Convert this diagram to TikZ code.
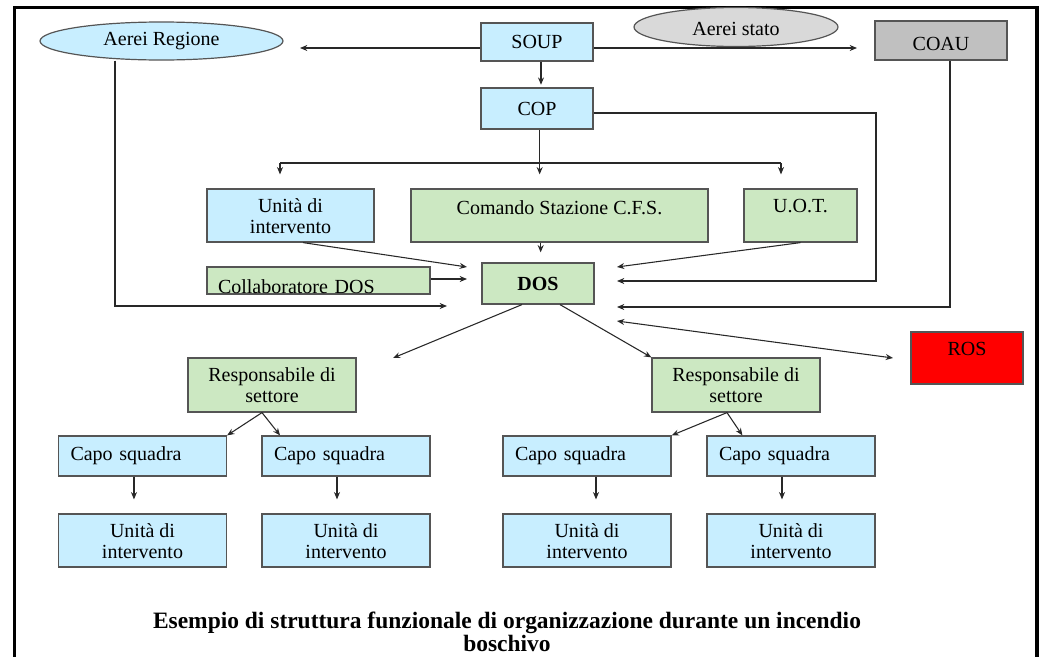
\documentclass[tikz,border=0pt]{standalone}
\usepackage{fontspec}
\setmainfont{Liberation Serif}
\usetikzlibrary{arrows.meta,shapes.geometric}
\newlength\mypx \setlength\mypx{0.75pt}
\newcommand\txtup[2]{\raisebox{#1\mypx}[\height][\depth]{#2}}
\newcommand\twolines[2]{\begin{tabular}{@{}c@{}}#1\\#2\end{tabular}}
\definecolor{boxblue}{RGB}{200,238,255}
\definecolor{boxgreen}{RGB}{204,232,194}
\definecolor{ellgray}{RGB}{217,217,217}
\definecolor{coaugray}{RGB}{192,192,192}
\definecolor{rosred}{RGB}{255,0,0}
\definecolor{edge}{RGB}{85,85,85}
\definecolor{conn}{RGB}{40,40,40}
\tikzset{
  box/.style={draw=edge, line width=0.9pt, inner sep=0pt, align=center},
  bluebox/.style={box, fill=boxblue},
  greenbox/.style={box, fill=boxgreen},
  ell/.style={ellipse, draw=edge, line width=0.9pt, inner sep=0pt},
  arr/.style={draw=conn, line width=0.8pt, -{Stealth[length=5.5pt,width=4.5pt]}},
  darr/.style={draw=conn, line width=0.8pt, {Stealth[length=5.5pt,width=4.5pt]}-{Stealth[length=5.5pt,width=4.5pt]}},
  plain/.style={draw=conn, line width=0.8pt},
  frame/.style={draw=black, line width=2.4pt},
  wideunit/.style={minimum width=126pt, minimum height=39.75pt},
  capobox/.style={bluebox, minimum width=126pt, minimum height=30pt, align=left, text width=108pt, inner xsep=9pt},
  respbox/.style={greenbox, minimum width=126pt, minimum height=40.5pt}
}
\begin{document}
\begin{tikzpicture}[x=0.75pt,y=-0.75pt, font=\fontsize{15}{15.75}\selectfont]
\useasboundingbox (0,0) rectangle (1043,657);
\fill[white] (0,0) rectangle (1043,657);

% frame
\coordinate (fBL) at (14.5,670);
\coordinate (fTL) at (14.5,7.5);
\coordinate (fTR) at (1037,7.5);
\coordinate (fBR) at (1037,670);
\draw[frame] (fBL) -- (fTL) -- (fTR) -- (fBR);

% top row
\node[ell, fill=boxblue, minimum width=182.25pt, minimum height=28.5pt] (aerR) at (161.5,41) {Aerei Regione};
\node[bluebox, minimum width=84pt, minimum height=28.5pt] (soup) at (537,42) {SOUP};
\node[ell, fill=ellgray, minimum width=153pt, minimum height=29.25pt] (aerS) at (736,27) {\txtup{-2}{Aerei stato}};
\node[box, fill=coaugray, minimum width=99pt, minimum height=29.25pt] (coau) at (941,40.5) {\txtup{-3}{COAU}};
\node[bluebox, minimum width=84pt, minimum height=30.75pt] (cop) at (537,108.5) {COP};

% second row
\node[bluebox, minimum width=125.25pt, minimum height=39.75pt] (unit0) at (290.5,215.5) {\txtup{-3}{\twolines{Unità di}{intervento}}};
\node[greenbox, minimum width=222.75pt, minimum height=39.75pt] (cfs) at (559.5,215.5) {\txtup{8}{Comando Stazione C.F.S.}};
\node[greenbox, minimum width=84.75pt, minimum height=39.75pt] (uot) at (800.5,215.5) {\txtup{9}{U.O.T.}};
\node[greenbox, minimum width=167.25pt, minimum height=20.25pt, align=left, text width=150.75pt, inner xsep=8.25pt] (coll) at (318.5,280.5) {\txtup{-6}{Collaboratore DOS}};
\node[greenbox, minimum width=84pt, minimum height=30.75pt, font=\fontsize{15}{15.75}\selectfont\bfseries] (dos) at (538,283.5) {DOS};
\node[box, fill=rosred, minimum width=84pt, minimum height=39pt] (ros) at (967,358) {\txtup{9}{ROS}};

% sector leaders
\node[respbox] (resp1) at (272,385) {\txtup{-3}{\twolines{Responsabile di}{settore}}};
\node[respbox] (resp2) at (736,385) {\txtup{-3}{\twolines{Responsabile di}{settore}}};

% team leaders
\node[capobox] (capo1) at (142.5,456) {Capo squadra};
\node[capobox] (capo2) at (346,456) {Capo squadra};
\node[capobox] (capo3) at (587,456) {Capo squadra};
\node[capobox] (capo4) at (791,456) {Capo squadra};

% intervention units
\node[bluebox, wideunit] (unit1) at (142.5,540.5) {\txtup{-3}{\twolines{Unità di}{intervento}}};
\node[bluebox, wideunit] (unit2) at (346,540.5) {\txtup{-3}{\twolines{Unità di}{intervento}}};
\node[bluebox, wideunit] (unit3) at (587,540.5) {\txtup{-3}{\twolines{Unità di}{intervento}}};
\node[bluebox, wideunit] (unit4) at (791,540.5) {\txtup{-3}{\twolines{Unità di}{intervento}}};

% caption
\node[font=\fontsize{17.6}{16}\selectfont\bfseries, align=center] (cap) at (507,632)
  {Esempio di struttura funzionale di organizzazione durante un incendio\\boschivo};

% free ends
\coordinate (aRend) at (300,48);
\coordinate (coauIn) at (857,48);
\coordinate (brL) at (280,163);
\coordinate (brR) at (781,163);
\coordinate (dosL1) at (467,267);
\coordinate (dosL2) at (467,279);
\coordinate (aRdown) at (115,306);
\coordinate (dosL3) at (447,306);
\coordinate (dosR1) at (617,267);
\coordinate (copR) at (876,113);
\coordinate (dosR2) at (617,281);
\coordinate (coauD) at (950,307);
\coordinate (dosR3) at (617,307);
\coordinate (dosR4) at (617,321);
\coordinate (rosIn) at (893,358);
\coordinate (r1in) at (393,358);

% connectors top
\draw[arr] (soup.west |- aRend) -- (aRend);
\draw[arr] (soup.east |- coauIn) -- (coauIn);
\draw[arr, shorten >=2pt] ([xshift=3pt]soup.south) -- ([xshift=3pt]cop.north);
\draw[plain] ([xshift=2pt]cop.south) -- ([xshift=2pt]cop.south |- brL);
\draw[plain] (brL) -- (brR);
\draw[arr, shorten >=10.5pt] (brL) -- (brL |- unit0.north);
\draw[arr, shorten >=10.5pt] ([xshift=2pt]cop.south |- brL) -- ([xshift=2pt]cop.south |- cfs.north);
\draw[arr, shorten >=10.5pt] (brR) -- (brR |- uot.north);

% into DOS
\draw[arr, shorten >=7.5pt] ([xshift=2pt]cfs.south -| dos.north) -- ([xshift=2pt]dos.north);
\draw[arr] ([xshift=9.4pt]unit0.south) -- (dosL1);
\draw[arr] (coll.east |- dosL2) -- (dosL2);
\draw[draw=conn, line width=1.3pt, -{Stealth[length=5.5pt,width=4.5pt]}] (aRdown |- aerR.south) -- (aRdown) -- (dosL3);
\draw[arr] (uot.south) -- (dosR1);
\draw[arr] (cop.east |- copR) -- (copR) -- (copR |- dosR2) -- (dosR2);
\draw[arr] (coauD |- coau.south) -- (coauD) -- (dosR3);
\draw[darr] (dosR4) -- (rosIn);

% out of DOS
\draw[arr] ([xshift=-12pt]dos.south) -- (r1in);
\draw[arr] ([xshift=16.5pt]dos.south) -- (resp2.north west);

% sector -> team
\draw[arr] ([xshift=-7.5pt]resp1.south) -- (capo1.north east);
\draw[arr] ([xshift=-7.5pt]resp1.south) -- ([xshift=14pt]capo2.north west);
\draw[arr] ([xshift=-6.75pt]resp2.south) -- (capo3.north east);
\draw[arr] ([xshift=-6.75pt]resp2.south) -- ([xshift=27pt]capo4.north west);

% team -> units
\draw[arr, shorten >=10.5pt] ([xshift=-6.4pt]capo1.south) -- ([xshift=-6.4pt]capo1.south |- unit1.north);
\draw[arr, shorten >=10.5pt] ([xshift=-6.75pt]capo2.south) -- ([xshift=-6.75pt]capo2.south |- unit2.north);
\draw[arr, shorten >=10.5pt] ([xshift=6.75pt]capo3.south) -- ([xshift=6.75pt]capo3.south |- unit3.north);
\draw[arr, shorten >=10.5pt] ([xshift=-6.75pt]capo4.south) -- ([xshift=-6.75pt]capo4.south |- unit4.north);
\end{tikzpicture}
\end{document}
